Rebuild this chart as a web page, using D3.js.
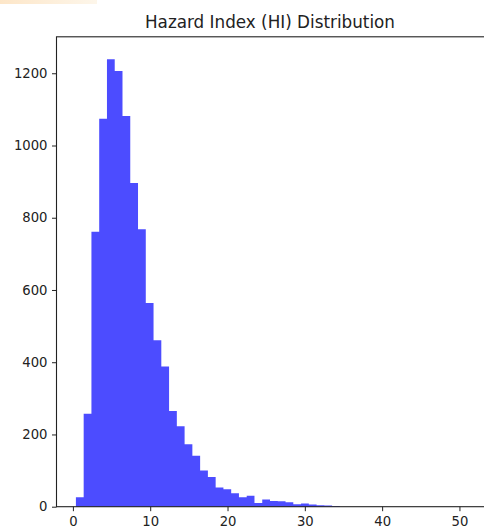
<!DOCTYPE html>
<html>
<head>
<meta charset="utf-8">
<script src="https://cdn.jsdelivr.net/npm/d3@7"></script>
<style>
  html, body { margin: 0; padding: 0; background: #fff; }
  svg { display: block; font-family: "DejaVu Sans", sans-serif; }
</style>
</head>
<body>
<svg id="chart" width="484" height="529"></svg>
<script>
// ---- data ----
const title = "Hazard Index (HI) Distribution";
const dataMin = 0.39;
const dataMax = 50.6;
const binCount = 50;
const counts = [
  26, 257, 761, 1074, 1239, 1206, 1082, 896, 768, 564,
  461, 388, 265, 223, 173, 141, 100, 82, 53, 48,
  37, 26, 30, 10, 20, 16, 15, 12, 7, 9,
  6, 4, 3, 2, 0, 0, 0, 0, 0, 0,
  0, 0, 0, 0, 0, 0, 0, 0, 0, 0
];
const xTicks = [0, 10, 20, 30, 40, 50];
const yTicks = [0, 200, 400, 600, 800, 1000, 1200];

// ---- layout ----
const svg = d3.select("#chart");
const mLeft = 56.5, mRight = 483.5, mTop = 36.8, mBottom = 506.7;

const binW = (dataMax - dataMin) / binCount;
const bins = counts.map((c, i) => ({ x0: dataMin + i * binW, x1: dataMin + (i + 1) * binW, n: c }));

const span = dataMax - dataMin;
const x = d3.scaleLinear()
  .domain([dataMin - 0.05 * span, dataMax + 0.05 * span])
  .range([mLeft, mRight]);
const y = d3.scaleLinear()
  .domain([0, 1.05 * d3.max(counts)])
  .range([mBottom, mTop]);

// faint decoration strip at top-left (crop artifact)
const grad = svg.append("defs").append("linearGradient").attr("id", "strip");
grad.append("stop").attr("offset", "0%").attr("stop-color", "#fde6c8");
grad.append("stop").attr("offset", "100%").attr("stop-color", "#fdf6ea");
svg.append("rect").attr("x", 0).attr("y", 0).attr("width", 97).attr("height", 4)
  .attr("fill", "url(#strip)");

// bars, drawn as one stepped area so adjacent bins have no seams
const steps = bins.map(b => ({ x: b.x0, n: b.n }));
steps.push({ x: bins[bins.length - 1].x1, n: 0 });
const area = d3.area()
  .curve(d3.curveStepAfter)
  .x(d => x(d.x))
  .y0(y(0))
  .y1(d => y(d.n));
svg.append("path")
  .datum(steps)
  .attr("d", area)
  .attr("fill", "blue")
  .attr("fill-opacity", 0.7);

// axes
const xAxis = svg.append("g").attr("transform", `translate(0,${mBottom})`)
  .call(d3.axisBottom(x).tickValues(xTicks).tickFormat(d3.format("d")).tickSize(4.5).tickPadding(5.5).tickSizeOuter(0));
const yAxis = svg.append("g").attr("transform", `translate(${mLeft},0)`)
  .call(d3.axisLeft(y).tickValues(yTicks).tickFormat(d3.format("d")).tickSize(4.5).tickPadding(4.5).tickSizeOuter(0));
[xAxis, yAxis].forEach(g => {
  g.select(".domain").remove();
  g.selectAll("line").attr("stroke", "#222").attr("stroke-width", 1);
  g.selectAll("text").attr("fill", "#222").style("font-size", "13.2px").style("font-family", "DejaVu Sans, sans-serif");
});

// spines (right spine falls just outside the cropped picture)
svg.append("rect")
  .attr("x", mLeft).attr("y", mTop)
  .attr("width", mRight - mLeft + 3).attr("height", mBottom - mTop)
  .attr("fill", "none").attr("stroke", "#222").attr("stroke-width", 1.1);

// title
svg.append("text")
  .attr("x", (mLeft + mRight) / 2).attr("y", 28)
  .attr("text-anchor", "middle")
  .attr("fill", "#222")
  .style("font-size", "16.8px")
  .text(title);
</script>
</body>
</html>
